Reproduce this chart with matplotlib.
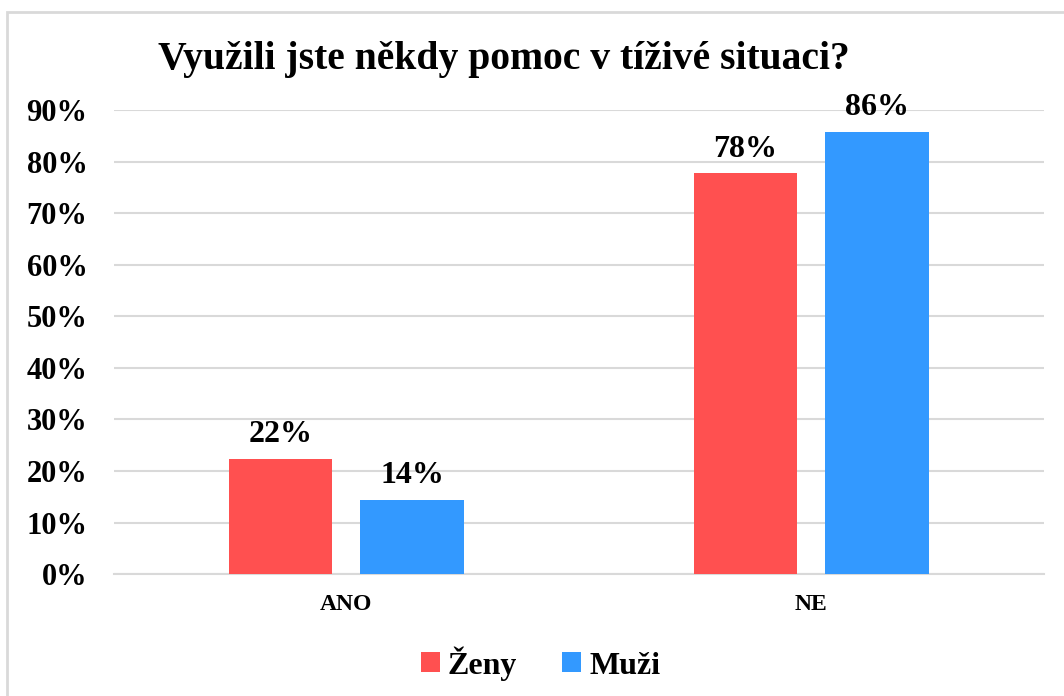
import matplotlib
matplotlib.use("Agg")
import matplotlib.pyplot as plt
from matplotlib.patches import Rectangle
import numpy as np

categories = ["ANO", "NE"]
series = ["Ženy", "Muži"]
zeny = [22.3, 77.7]
muzi = [14.4, 85.8]
labels_zeny = ["22%", "78%"]
labels_muzi = ["14%", "86%"]
colors = ["#FF5050", "#3399FF"]
yticks = [0, 10, 20, 30, 40, 50, 60, 70, 80, 90]

plt.rcParams["font.family"] = ["Liberation Serif", "DejaVu Serif"]
plt.rcParams["font.weight"] = "bold"

fig = plt.figure(figsize=(10.64, 6.96), dpi=100)
ax = fig.add_axes([0.107, 0.175, 0.874, 0.667])

# outer frame like the Excel chart border
fig.patches.append(Rectangle((0.007, -0.02), 1.1, 1.003, transform=fig.transFigure,
                             fill=False, edgecolor="#D9D9D9", linewidth=2))

x = np.arange(len(categories))
w = 0.223
off = w / 2 + 0.03
b1 = ax.bar(x - off, zeny, w, color=colors[0], label=series[0], zorder=3)
b2 = ax.bar(x + off, muzi, w, color=colors[1], label=series[1], zorder=3)

for bars, labs in ((b1, labels_zeny), (b2, labels_muzi)):
    for b, lab in zip(bars, labs):
        ax.annotate(lab, (b.get_x() + b.get_width() / 2, b.get_height()),
                    xytext=(0, 7), textcoords="offset points",
                    ha="center", va="bottom", fontsize=23, fontweight="bold")

ax.set_xlim(-0.5, 1.5)
ax.set_ylim(0, 90)
ax.set_yticks(yticks)
ax.set_yticklabels([f"{v}%" for v in yticks], fontsize=22, fontweight="bold")
ax.set_xticks(x)
ax.set_xticklabels(categories, fontsize=17, fontweight="bold")
ax.tick_params(axis="y", length=0, pad=19)
ax.tick_params(axis="x", length=0, pad=14)
ax.grid(axis="y", color="#D9D9D9", linewidth=1.5, zorder=0)
for s in ["top", "right", "left"]:
    ax.spines[s].set_visible(False)
ax.spines["bottom"].set_color("#D9D9D9")
ax.spines["bottom"].set_linewidth(1.5)

fig.text(0.474, 0.915, "Využili jste někdy pomoc v tíživé situaci?",
         ha="center", va="center", fontsize=28.5, fontweight="bold")

fig.legend(handles=[b1, b2], labels=series, loc="center", bbox_to_anchor=(0.508, 0.047),
           ncol=2, frameon=False, fontsize=23, handlelength=0.6, handleheight=0.6,
           handletextpad=0.25, columnspacing=1.4)

fig.savefig("out.png", dpi=100)
